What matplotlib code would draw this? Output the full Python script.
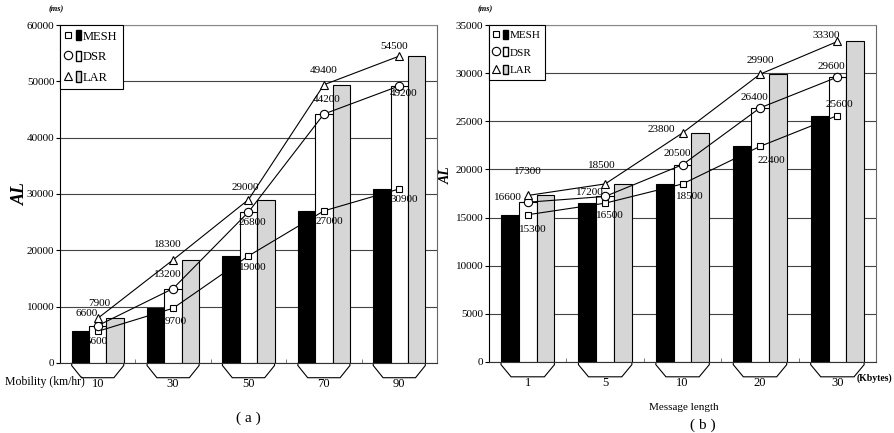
import matplotlib
matplotlib.use('Agg')
import matplotlib.pyplot as plt
from matplotlib.patches import Polygon, Patch
from matplotlib.lines import Line2D
from matplotlib.legend_handler import HandlerTuple
import numpy as np

# (a) mobility
mobility = ['10', '30', '50', '70', '90']
mesh_a = [5600, 9700, 19000, 27000, 30900]
dsr_a = [6600, 13200, 26800, 44200, 49200]
lar_a = [7900, 18300, 29000, 49400, 54500]

# (b) message length
msg_len = ['1', '5', '10', '20', '30']
mesh_b = [15300, 16500, 18500, 22400, 25600]
dsr_b = [16600, 17200, 20500, 26400, 29600]
lar_b = [17300, 18500, 23800, 29900, 33300]

# label offsets in pixels (dx, dy) for value annotations
off_a = {
    'lar': [(2, 15), (-5, 15), (-3, 12), (0, 14), (-5, 10)],
    'dsr': [(-11, 12), (-5, 14), (4, -11), (3, 15), (4, -8)],
    'mesh': [(-1, -10), (3, -13), (4, -12), (5, -11), (5, -11)],
}
off_b = {
    'lar': [(0, 24), (-3, 18), (-21, 3), (0, 14), (-11, 6)],
    'dsr': [(-20, 5), (-15, 4), (-5, 11), (-6, 10), (-6, 11)],
    'mesh': [(5, -15), (5, -12), (7, -13), (11, -14), (2, 11)],
}

plt.rcParams['font.family'] = ['Liberation Serif', 'DejaVu Serif']

BLACK = '#000000'
GRAY = '#d6d6d6'
W = 0.23


def draw_panel(ax, cats, mesh, dsr, lar, ymax, ystep, offs, legsize, alsize):
    x = np.arange(len(cats))
    ax.set_xlim(-0.5, len(cats) - 0.5)
    ax.set_ylim(0, ymax)
    ax.set_yticks(np.arange(0, ymax + 1, ystep))
    ax.yaxis.grid(True, color='#444444', lw=0.8)
    ax.set_axisbelow(True)

    ax.bar(x - W, mesh, W, color=BLACK, edgecolor=BLACK, lw=0.8, zorder=2)
    ax.bar(x, dsr, W, color='white', edgecolor=BLACK, lw=0.8, zorder=2)
    ax.bar(x + W, lar, W, color=GRAY, edgecolor=BLACK, lw=0.8, zorder=2)

    ax.plot(x, mesh, color='black', lw=0.8, marker='s', ms=5, mfc='white',
            mec='black', mew=0.8, zorder=4)
    ax.plot(x, dsr, color='black', lw=0.8, marker='o', ms=6, mfc='white',
            mec='black', mew=0.8, zorder=4)
    ax.plot(x, lar, color='black', lw=0.8, marker='^', ms=6, mfc='white',
            mec='black', mew=0.8, zorder=4)

    for key, vals in (('lar', lar), ('dsr', dsr), ('mesh', mesh)):
        for i, v in enumerate(vals):
            dx, dy = offs[key][i]
            ax.annotate(str(v), (x[i], v), xytext=(dx, dy),
                        textcoords='offset pixels', ha='center', va='center',
                        fontsize=8, zorder=5)

    # base shapes under each group
    tr = ax.get_xaxis_transform()
    d, d1, a = 0.044, 0.008, 0.13
    for i in x:
        l, r = i - 1.5 * W, i + 1.5 * W
        pts = [(l, 0), (l, -d1), (l + a, -d), (r - a, -d), (r, -d1), (r, 0)]
        ax.add_patch(Polygon(pts, closed=False, fill=False, edgecolor='black',
                             lw=0.8, transform=tr, clip_on=False))

    ax.set_xticks(x)
    ax.set_xticklabels(cats, fontsize=9)
    ax.tick_params(axis='x', length=0, pad=11)
    ax.set_xticks(x[:-1] + 0.5, minor=True)
    ax.tick_params(axis='x', which='minor', length=3, direction='in',
                   color='#666666')
    ax.tick_params(axis='y', labelsize=8, length=3, pad=1)

    ax.spines['left'].set_color('black')
    ax.spines['bottom'].set_linestyle((0, (2, 1)))
    ax.spines['bottom'].set_color('#333333')
    ax.spines['top'].set_linestyle((0, (1, 1)))
    ax.spines['top'].set_color('#888888')
    ax.spines['right'].set_color('#666666')

    ax.set_ylabel('AL', fontsize=alsize, fontweight='bold', fontstyle='italic')
    ax.text(-0.01, 1.035, '(ms)', transform=ax.transAxes, fontsize=6,
            fontstyle='italic', fontweight='bold', ha='center', va='bottom')

    handles = [
        (Line2D([], [], ls='', marker='s', ms=5, mfc='white', mec='black', mew=0.8),
         Patch(facecolor=BLACK, edgecolor=BLACK)),
        (Line2D([], [], ls='', marker='o', ms=6, mfc='white', mec='black', mew=0.8),
         Patch(facecolor='white', edgecolor=BLACK)),
        (Line2D([], [], ls='', marker='^', ms=6, mfc='white', mec='black', mew=0.8),
         Patch(facecolor=GRAY, edgecolor=BLACK)),
    ]
    leg = ax.legend(handles, ['MESH', 'DSR', 'LAR'],
                    handler_map={tuple: HandlerTuple(ndivide=None, pad=0.4)},
                    loc='upper left', borderaxespad=0, fancybox=False,
                    framealpha=1, edgecolor='black', fontsize=legsize,
                    handlelength=1.3, handleheight=0.9, handletextpad=0.15,
                    borderpad=0.4, labelspacing=0.65)
    leg.get_frame().set_linewidth(0.8)


fig = plt.figure(figsize=(8.94, 4.33), dpi=100)
ax1 = fig.add_axes([0.0671, 0.162, 0.4217, 0.780])
ax2 = fig.add_axes([0.547, 0.164, 0.433, 0.778])

draw_panel(ax1, mobility, mesh_a, dsr_a, lar_a, 60000, 10000, off_a, 9, 13)
draw_panel(ax2, msg_len, mesh_b, dsr_b, lar_b, 35000, 5000, off_b, 8, 10)
ax1.yaxis.set_label_coords(-0.082, 0.5)
ax2.yaxis.set_label_coords(-0.094, 0.555)

fig.text(45 / 894, 1 - 382 / 433, 'Mobility (km/hr)', fontsize=8.5,
         ha='center', va='center')
fig.text(248 / 894, 1 - 418 / 433, '( a )', fontsize=11, ha='center', va='center')
fig.text(684 / 894, 1 - 407 / 433, 'Message length', fontsize=8,
         ha='center', va='center')
fig.text(703 / 894, 1 - 425 / 433, '( b )', fontsize=11, ha='center', va='center')
fig.text(892 / 894, 1 - 378 / 433, '(Kbytes)', fontsize=7, fontweight='bold',
         ha='right', va='center')

fig.savefig('out.png', dpi=100)
